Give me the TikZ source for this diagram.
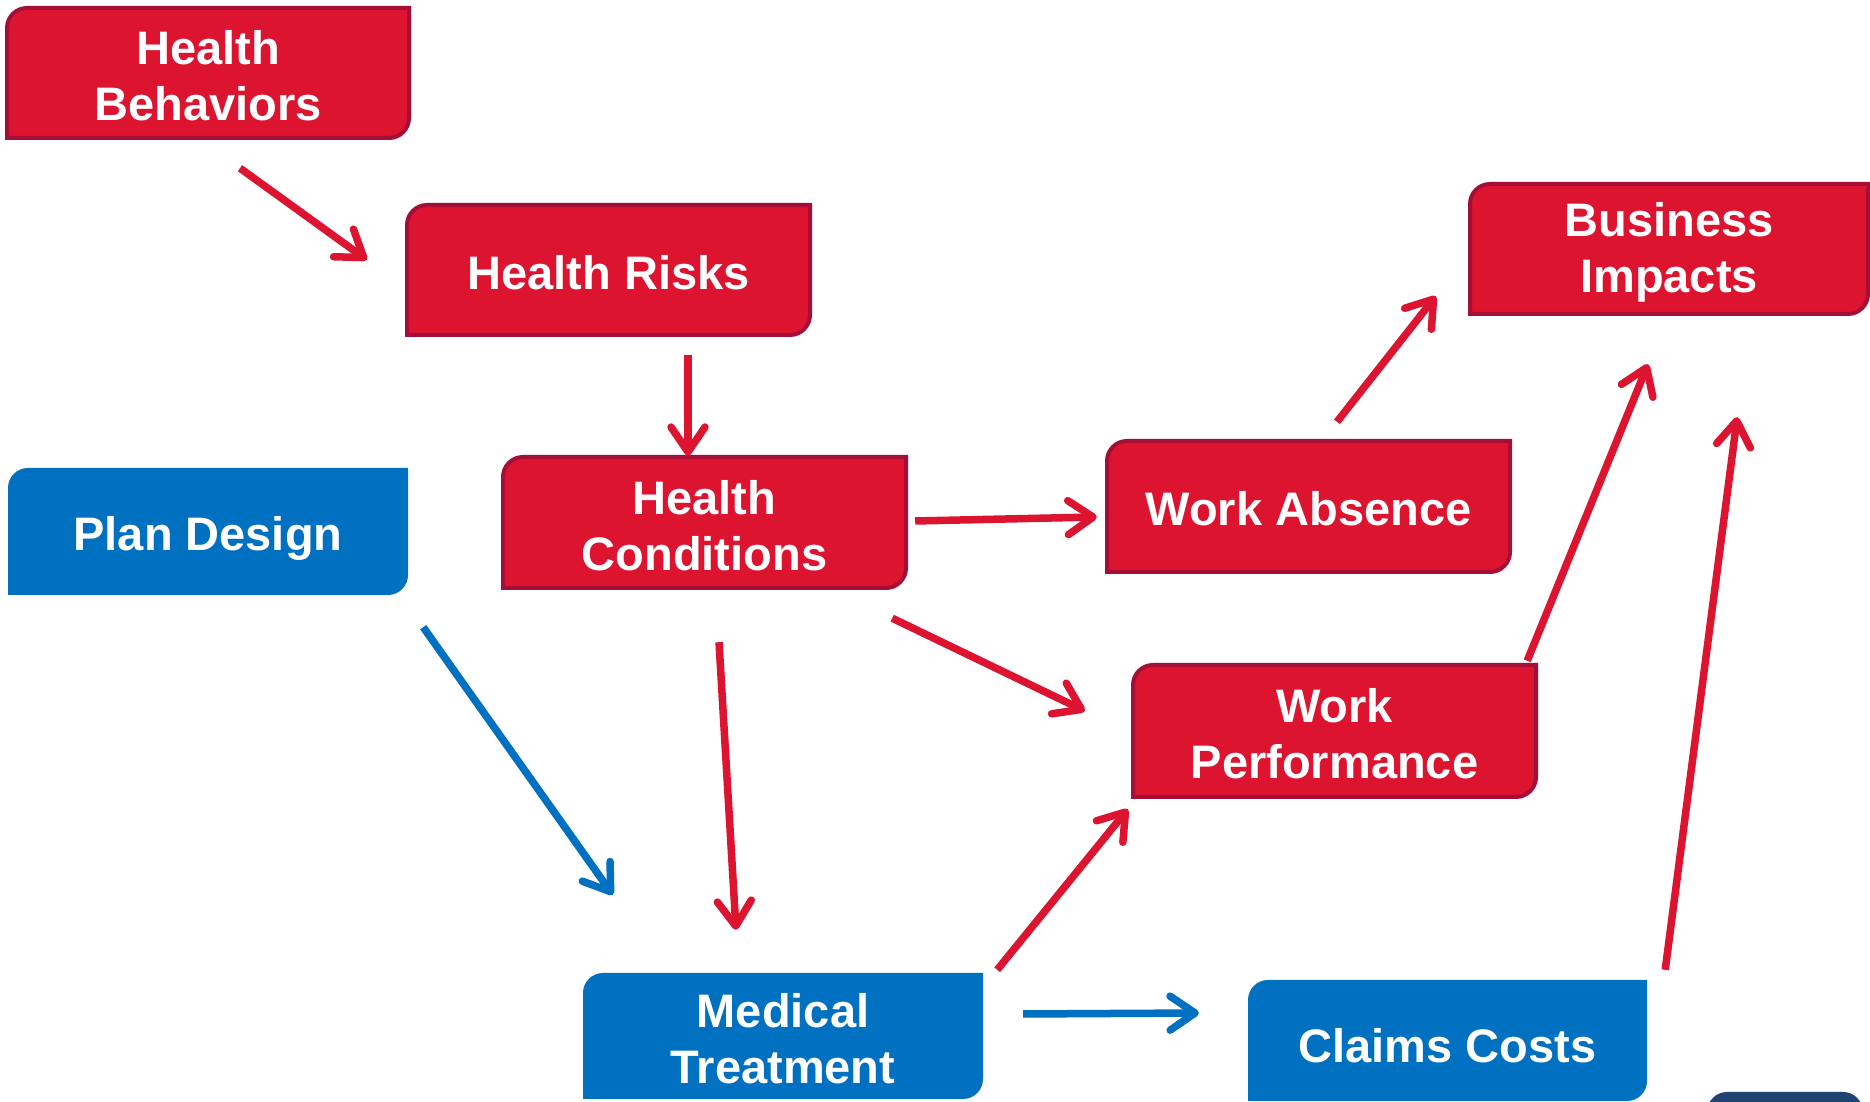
\documentclass[tikz,border=0pt]{standalone}
\usepackage{fontspec}
\setmainfont{Liberation Sans}
\usetikzlibrary{arrows.meta,calc}

\definecolor{boxred}{RGB}{220,20,48}
\definecolor{edgered}{RGB}{165,14,55}
\definecolor{boxblue}{RGB}{0,112,192}
\definecolor{boxnavy}{RGB}{31,68,114}

\tikzset{
  boxtext/.style={text=white, font=\fontsize{47}{56}\selectfont\bfseries,
    align=center, inner sep=0pt},
  boxframe/.style={inner sep=0pt},
  redfill/.style={fill=boxred, draw=edgered, line width=4pt},
  bluefill/.style={fill=boxblue},
  link/.style={line width=7.5pt,
    -{Straight Barb[length=25pt,width=34pt,line cap=round,line join=round]}},
  redlink/.style={link, draw=boxred},
  bluelink/.style={link, draw=boxblue},
}

% #1 style, #2 name, #3 left, #4 top, #5 right, #6 bottom, #7 text, #8 text offset
% box with rounded top-left and bottom-right corners
\newcommand\tabbox[8]{%
  \path[#1] (#3,#6) -- (#3,#4-20) arc[start angle=180,end angle=90,radius=20pt]
    -- (#5,#4) -- (#5,#6+20) arc[start angle=0,end angle=-90,radius=20pt] -- cycle;
  \node[boxframe, minimum width={(#5-#3)*1pt}, minimum height={(#4-#6)*1pt}]
    (#2) at ({(#3+#5)/2},{(#4+#6)/2}) {};
  \node[boxtext] (#2-text) at ($(#2.center)+(0,#8)$) {#7};
}

\begin{document}
\begin{tikzpicture}[x=1pt,y=1pt]
\useasboundingbox (0,0) rectangle (1870,1102);
\fill[white] (0,0) rectangle (1870,1102);

\tabbox{redfill}{hb}{7}{1094}{409}{964}{Health\\Behaviors}{-3}
\tabbox{redfill}{hr}{407}{897}{810}{767}{Health Risks}{-3}
\tabbox{redfill}{hc}{503}{645}{906}{514}{Health\\Conditions}{-3}
\tabbox{bluefill}{pd}{8}{634}{408}{507}{Plan Design}{-7}
\tabbox{redfill}{wa}{1107}{661}{1510}{530}{Work Absence}{-2}
\tabbox{redfill}{bi}{1470}{918}{1868}{788}{Business\\Impacts}{-3}
\tabbox{redfill}{wp}{1133}{437}{1536}{305}{Work\\Performance}{-3}
\tabbox{bluefill}{mt}{583}{129}{983}{3}{Medical\\Treatment}{-3}
\tabbox{bluefill}{cc}{1248}{122}{1647}{1}{Claims Costs}{-5}

% partly visible box at the lower right edge
\fill[boxnavy, rounded corners=20pt] (1707,-40) rectangle (1863,10);

% connectors
\draw[redlink] ($(hb.south)+(32,-30)$) -- ($(hr.north west)+(-40,-55)$);
\draw[redlink] ($(hr.south)+(79.5,-20)$) -- ($(hc.north)+(-16.5,1)$);
\draw[redlink] ($(hc.east)+(9,1.5)$) -- ($(wa.west)+(-10,-10.5)$);
\draw[redlink] ($(hc.south east)+(-14,-30)$) -- ($(wp.west)+(-48,20)$);
\draw[redlink] ($(hc.south)+(14.5,-54)$) -- ($(mt.north)+(-47,43)$);
\draw[bluelink] ($(pd.south east)+(15,-32)$) -- ($(mt.north west)+(30,78)$);
\draw[redlink] ($(mt.north east)+(14,3)$) -- ($(wp.south west)+(-5,-12)$);
\draw[bluelink] ($(mt.east)+(40,22)$) -- ($(cc.west)+(-49,27.5)$);
\draw[redlink] ($(wa.north)+(28.5,19)$) -- ($(bi.south west)+(-34,18)$);
\draw[redlink] ($(wp.north east)+(-9,4)$) -- ($(bi.south)+(-21,-50)$);
\draw[redlink] ($(cc.north east)+(18,10)$) -- ($(bi.south east)+(-131,-103)$);
\end{tikzpicture}
\end{document}
